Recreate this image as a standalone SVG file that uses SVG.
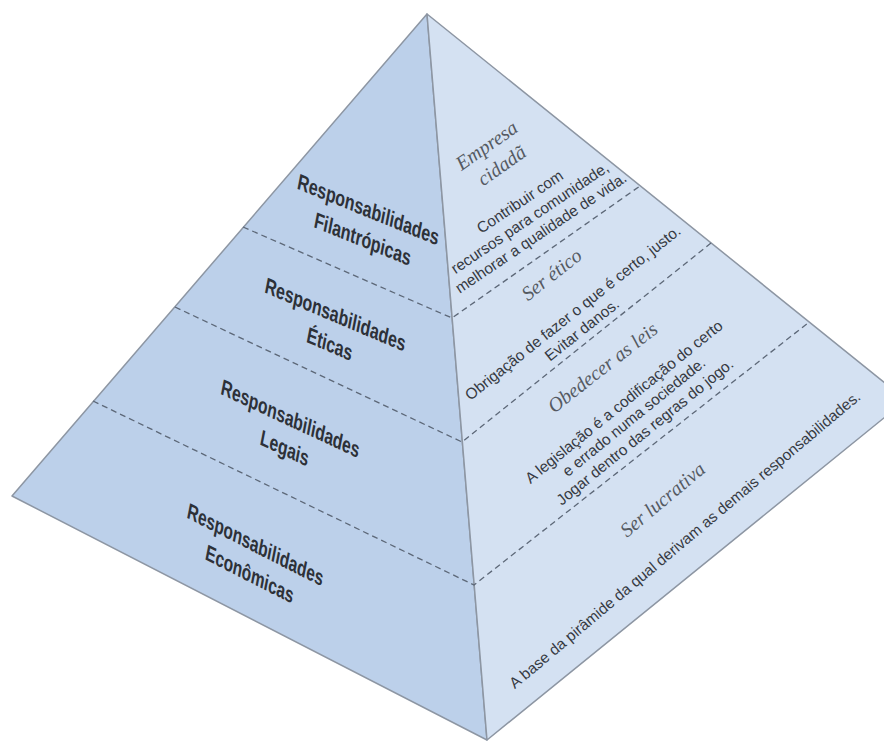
<svg xmlns="http://www.w3.org/2000/svg" width="884" height="742" viewBox="0 0 884 742">
<style>
.face-l{fill:#bcd0ea;stroke:#8d96a3;stroke-width:1.5;stroke-linejoin:round}
.face-r{fill:#d4e1f2;stroke:#8d96a3;stroke-width:1.5;stroke-linejoin:round}
.dash{fill:none;stroke:#5d6878;stroke-width:1.3;stroke-dasharray:6 4}
.lbl{font-family:"Liberation Sans",Arial,sans-serif;font-weight:bold;font-size:22px;fill:#2d3138;text-anchor:middle}
.desc{font-family:"Liberation Sans",Arial,sans-serif;font-size:15.4px;fill:#363a42;text-anchor:middle}
.motto{font-family:"Liberation Serif","Times New Roman",serif;font-style:italic;font-size:20px;fill:#555a62;text-anchor:middle}
</style>
<rect width="884" height="742" fill="#ffffff"/>
<g id="pyramid">
<polygon class="face-l" points="427,14 12,496 487,740"/>
<polygon class="face-r" points="427,14 487,740 906,400"/>
</g>
<g id="connectors">
<polyline class="dash" points="243,227 452,318 640,186"/>
<polyline class="dash" points="175,307 462,442 711,243"/>
<polyline class="dash" points="93,401 474,585 808,323"/>
</g>
<g id="tier-filantropicas">
<text class="lbl" transform="matrix(.703 .285 -.191 .982 367 217)"><tspan x="0" y="0">Responsabilidades</tspan><tspan x="0" y="30">Filantrópicas</tspan></text>
<text class="motto" transform="translate(487,146) rotate(-35)" y="6">Empresa</text>
<text class="motto" transform="translate(502,166) rotate(-35)" y="6">cidadã</text>
<text class="desc" transform="translate(520,202) rotate(-34)" y="5">Contribuir com</text>
<text class="desc" transform="translate(530,218) rotate(-34)" y="5">recursos para comunidade,</text>
<text class="desc" transform="translate(541,233) rotate(-34)" y="5">melhorar a qualidade de vida.</text>
</g>
<g id="tier-eticas">
<text class="lbl" transform="matrix(.699 .297 -.191 .982 334 322)"><tspan x="0" y="0">Responsabilidades</tspan><tspan x="0" y="30">Éticas</tspan></text>
<text class="motto" transform="translate(552,275) rotate(-38)" y="6">Ser ético</text>
<text class="desc" transform="translate(573,313) rotate(-38.5)" y="5">Obrigação de fazer o que é certo, justo.</text>
<text class="desc" transform="translate(582,330) rotate(-38.5)" y="5">Evitar danos.</text>
</g>
<g id="tier-legais">
<text class="lbl" transform="matrix(.688 .321 -.191 .982 289 426)"><tspan x="0" y="0">Responsabilidades</tspan><tspan x="0" y="30">Legais</tspan></text>
<text class="motto" transform="translate(603,368) rotate(-38)" y="6">Obedecer as leis</text>
<text class="desc" transform="translate(624,402) rotate(-39)" y="5">A legislação é a codificação do certo</text>
<text class="desc" transform="translate(634,417) rotate(-39)" y="5">e errado numa sociedade.</text>
<text class="desc" transform="translate(645,432) rotate(-39)" y="5">Jogar dentro das regras do jogo.</text>
</g>
<g id="tier-economicas">
<text class="lbl" transform="matrix(.676 .345 -.191 .982 254 552)"><tspan x="0" y="0">Responsabilidades</tspan><tspan x="0" y="30">Econômicas</tspan></text>
<text class="motto" transform="translate(663,500) rotate(-40)" y="6">Ser lucrativa</text>
<text class="desc" transform="translate(685,540) rotate(-40)" y="5">A base da pirâmide da qual derivam as demais responsabilidades.</text>
</g>
</svg>
